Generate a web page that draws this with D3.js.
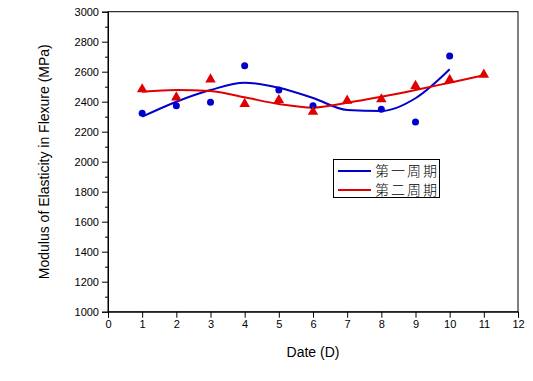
<!DOCTYPE html>
<html><head><meta charset="utf-8">
<script src="https://cdn.jsdelivr.net/npm/d3@7"></script>
<style>body{margin:0;background:#fff}svg{display:block}</style>
</head><body>
<svg id="c" width="533" height="381"></svg>
<script>
const days = [1,2,3,4,5,6,7,8,9,10,11];
const cycle1Points = [[1,2323],[2,2373],[3,2396],[4,2640],[5,2478],[6,2373],[8,2349],[9,2265],[10,2705]];
const cycle2Points = [[1,2483],[2,2429],[3,2549],[4,2385],[5,2411],[6,2333],[7,2407],[8,2416],[9,2505],[10,2545],[11,2580]];
const cycle1Fit = [2300,2400,2478,2527,2493,2425,2345,2338,2423,2616];
const cycle2Fit = [2467,2478,2471,2429,2385,2361,2393,2433,2478,2527,2576];
const seriesNames = ["第一周期","第二周期"];
const colors = ["#0000cc","#e00000"];
const xTicks = d3.range(0,13);
const yTicks = d3.range(1000,3001,200);

const svg = d3.select("#c");
const L=108,R=518,T=11.7,B=311.7;
const x = d3.scaleLinear().domain([0,12]).range([L,R]);
const y = d3.scaleLinear().domain([1000,3000]).range([B,T]);
const font = "Liberation Sans, Arial, sans-serif";

// frame
svg.append("rect").attr("x",L).attr("y",T).attr("width",R-L).attr("height",B-T)
  .attr("fill","none").attr("stroke","#000").attr("stroke-width",1);

// x axis
svg.append("g").attr("transform",`translate(0,${B})`)
  .call(d3.axisBottom(x).tickValues(xTicks).tickSize(6).tickPadding(3).tickFormat(d3.format("d")));
// y axis
svg.append("g").attr("transform",`translate(${L},0)`)
  .call(d3.axisLeft(y).tickValues(yTicks).tickSize(6).tickPadding(3).tickFormat(d3.format("d")));
// y minor ticks
svg.append("g").attr("transform",`translate(${L},0)`)
  .call(d3.axisLeft(y).tickValues(d3.range(1100,3000,200)).tickSize(3).tickFormat(""))
  .select(".domain").remove();
svg.selectAll(".domain").attr("stroke","#000");
svg.selectAll(".tick line").attr("stroke","#000");
svg.selectAll(".tick text").attr("font-family",font).attr("font-size",11).attr("fill","#000");

// axis titles
svg.append("text").attr("x",(L+R)/2).attr("y",357).attr("text-anchor","middle")
  .attr("font-family",font).attr("font-size",14).text("Date (D)");
svg.append("text").attr("transform",`translate(49,${(T+B)/2}) rotate(-90)`).attr("text-anchor","middle")
  .attr("font-family",font).attr("font-size",14).text("Modulus of Elasticity in Flexure (MPa)");

// lines
const line = d3.line().x(d=>x(d[0])).y(d=>y(d[1])).curve(d3.curveMonotoneX);
const fit1 = cycle1Fit.map((v,i)=>[days[i],v]);
const fit2 = cycle2Fit.map((v,i)=>[days[i],v]);
svg.append("path").attr("d",line(fit1)).attr("fill","none").attr("stroke",colors[0]).attr("stroke-width",2);
svg.append("path").attr("d",line(fit2)).attr("fill","none").attr("stroke",colors[1]).attr("stroke-width",2);

// markers
svg.append("g").selectAll("circle").data(cycle1Points).join("circle")
  .attr("cx",d=>x(d[0])).attr("cy",d=>y(d[1])).attr("r",3.5).attr("fill",colors[0]);
const tri = d3.symbol().type(d3.symbolTriangle).size(48);
svg.append("g").selectAll("path").data(cycle2Points).join("path")
  .attr("d",tri).attr("transform",d=>`translate(${x(d[0])},${y(d[1])})`).attr("fill",colors[1]);

// legend
const lg = svg.append("g");
lg.append("rect").attr("x",333.5).attr("y",159.5).attr("width",106).attr("height",38)
  .attr("fill","#fff").attr("stroke","#000").attr("stroke-width",1);
seriesNames.forEach((n,i)=>{
  const yy = 171 + i*19;
  lg.append("line").attr("x1",338).attr("x2",371).attr("y1",yy).attr("y2",yy)
    .attr("stroke",colors[i]).attr("stroke-width",2);
  lg.append("text").attr("x",375).attr("y",yy+5).attr("font-family","Noto Sans CJK SC, sans-serif")
    .attr("font-size",14).attr("font-weight",300).attr("textLength",62).attr("lengthAdjust","spacing")
    .attr("fill","#000").text(n);
});
</script>
</body></html>
